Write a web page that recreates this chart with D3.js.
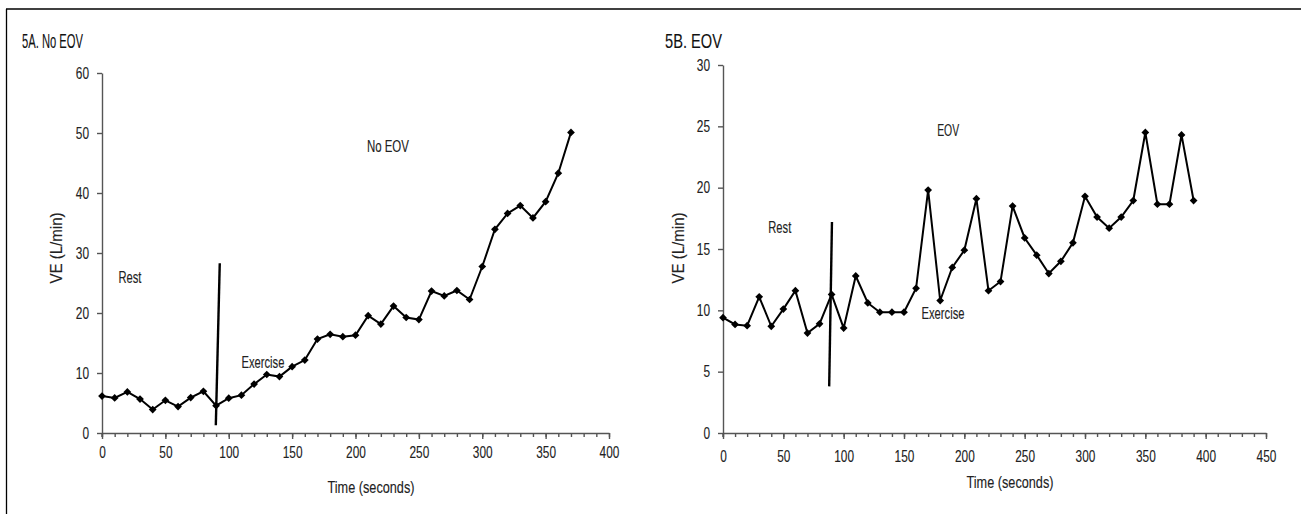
<!DOCTYPE html>
<html><head><meta charset="utf-8">
<script src="https://cdn.jsdelivr.net/npm/d3@7"></script>
<style>
html,body{margin:0;padding:0;background:#fff;}
svg text{font-family:"Liberation Sans Narrow","Arial Narrow","Liberation Sans",Arial,sans-serif;stroke:#222;stroke-width:0.12px;}
</style></head>
<body><svg id="c" width="1301" height="514"></svg>
<script>
// ---- data ----
const timeA = [0,10,20,30,40,50,60,70,80,90,100,110,120,130,140,150,160,170,180,190,200,210,220,230,240,250,260,270,280,290,300,310,320,330,340,350,360,370];
const veA = [6.15,5.85,6.85,5.65,3.9,5.45,4.4,5.9,6.95,4.55,5.8,6.3,8.15,9.75,9.4,11.05,12.15,15.65,16.45,16.05,16.3,19.55,18.15,21.15,19.25,18.9,23.65,22.85,23.75,22.25,27.75,33.95,36.6,37.9,35.85,38.55,43.3,50.1];
const timeB = [0,10,20,30,40,50,60,70,80,90,100,110,120,130,140,150,160,170,180,190,200,210,220,230,240,250,260,270,280,290,300,310,320,330,340,350,360,370,380,390];
const veB = [9.4,8.85,8.75,11.1,8.7,10.1,11.6,8.15,8.9,11.3,8.55,12.8,10.6,9.85,9.85,9.85,11.8,19.8,10.8,13.5,14.9,19.1,11.6,12.35,18.5,15.9,14.5,13.0,14.0,15.5,19.3,17.6,16.7,17.6,18.95,24.5,18.65,18.65,24.3,18.95];
const xTicksA = [0,50,100,150,200,250,300,350,400];
const yTicksA = [0,10,20,30,40,50,60];
const xTicksB = [0,50,100,150,200,250,300,350,400,450];
const yTicksB = [0,5,10,15,20,25,30];
const dividerA = [[89.8,1.3],[92.9,28.3]];
const dividerB = [[88.0,3.8],[90.3,17.2]];
const titleA = "5A. No EOV", titleB = "5B. EOV";
const xLabel = "Time (seconds)", yLabel = "VE (L/min)";
const notesA = [{t:"Rest",x:13,y:25.0,w:23},{t:"Exercise",x:110,y:10.9,w:43},{t:"No EOV",x:209,y:46.9,w:42}];
const notesB = [{t:"Rest",x:37.5,y:16.3,w:23},{t:"Exercise",x:164.5,y:9.3,w:43},{t:"EOV",x:177.5,y:24.25,w:22}];

const svg = d3.select("#c");
const FONT = '"Liberation Sans Narrow","Arial Narrow","Liberation Sans",Arial,sans-serif';
const DIGIT_W = 6.6;
// frame
svg.append("line").attr("x1",6.5).attr("y1",9).attr("x2",6.5).attr("y2",514).attr("stroke","#000").attr("stroke-width",1.3);
svg.append("line").attr("x1",6).attr("y1",9).attr("x2",1301).attr("y2",9).attr("stroke","#000").attr("stroke-width",1.3);

function panel(cfg){
  const x = d3.scaleLinear().domain(cfg.xDom).range(cfg.xRange);
  const y = d3.scaleLinear().domain(cfg.yDom).range(cfg.yRange);
  const g = svg.append("g");
  const axColor = "#555";
  const minor = d3.range(cfg.xDom[0], cfg.xDom[1]+1, 10);
  const gxm = g.append("g").attr("transform",`translate(0,${cfg.yRange[0]})`)
    .call(d3.axisBottom(x).tickValues(minor).tickSize(4).tickFormat(""));
  gxm.select(".domain").remove();
  gxm.selectAll("text").remove();
  const gx = g.append("g").attr("transform",`translate(0,${cfg.yRange[0]})`)
    .call(d3.axisBottom(x).tickValues(cfg.xTicks).tickSize(6).tickSizeOuter(0).tickPadding(cfg.xPad));
  const gy = g.append("g").attr("transform",`translate(${cfg.xRange[0]},0)`)
    .call(d3.axisLeft(y).tickValues(cfg.yTicks).tickSize(5).tickSizeOuter(0).tickPadding(8));
  [gxm,gx,gy].forEach(a=>{
    a.selectAll("line").attr("stroke",axColor).attr("stroke-width",1.4);
    a.selectAll(".domain").attr("stroke",axColor).attr("stroke-width",1.4);
    a.selectAll("text").attr("font-size",16).attr("fill","#222")
      .style("font-family",FONT)
      .attr("textLength",function(){ return (this.textContent.length*DIGIT_W).toFixed(1); })
      .attr("lengthAdjust","spacingAndGlyphs");
  });
  g.append("line").attr("x1",cfg.xRange[0]).attr("x2",cfg.xRange[0])
    .attr("y1",cfg.yRange[0]).attr("y2",cfg.yRange[0]+4).attr("stroke",axColor).attr("stroke-width",1.4);

  g.append("line").attr("x1",x(cfg.divider[0][0])).attr("y1",y(cfg.divider[0][1]))
    .attr("x2",x(cfg.divider[1][0])).attr("y2",y(cfg.divider[1][1]))
    .attr("stroke","#000").attr("stroke-width",2.4);

  const pts = cfg.t.map((t,i)=>[t,cfg.v[i]]);
  g.append("path").datum(pts)
    .attr("d", d3.line().x(d=>x(d[0])).y(d=>y(d[1])))
    .attr("fill","none").attr("stroke","#000").attr("stroke-width",2);
  g.selectAll(".mk").data(pts).join("path")
    .attr("d", d3.symbol(d3.symbolSquare, 30)())
    .attr("transform", d=>`translate(${x(d[0])},${y(d[1])}) rotate(45)`)
    .attr("fill","#000");

  cfg.notes.forEach(n=>{
    g.append("text").attr("x",x(n.x)).attr("y",y(n.y)).attr("font-size",16).attr("fill","#222")
      .attr("textLength",n.w).attr("lengthAdjust","spacingAndGlyphs").text(n.t);
  });
  g.append("text").attr("x",cfg.title.x).attr("y",cfg.title.y).attr("font-size",21)
    .attr("fill","#111").attr("textLength",cfg.title.w).attr("lengthAdjust","spacingAndGlyphs").text(cfg.title.t);
  g.append("text").attr("x",cfg.xl.x).attr("y",cfg.xl.y).attr("font-size",16).attr("text-anchor","middle")
    .attr("fill","#222").attr("textLength",87).attr("lengthAdjust","spacingAndGlyphs").text(xLabel);
  g.append("text").attr("transform",`translate(${cfg.yl.x},${cfg.yl.y}) rotate(-90)`)
    .attr("font-size",16).attr("text-anchor","middle").attr("fill","#222")
    .attr("textLength",71).attr("lengthAdjust","spacingAndGlyphs").text(yLabel);
}

panel({xDom:[0,400], yDom:[0,60], xRange:[102,609], yRange:[433,73], xTicks:xTicksA, yTicks:yTicksA,
  xPad:8, t:timeA, v:veA, divider:dividerA, notes:notesA,
  title:{t:titleA,x:22,y:48,w:61}, xl:{x:371,y:493}, yl:{x:62,y:248}});
panel({xDom:[0,450], yDom:[0,30], xRange:[723,1266], yRange:[433,65], xTicks:xTicksB, yTicks:yTicksB,
  xPad:12, t:timeB, v:veB, divider:dividerB, notes:notesB,
  title:{t:titleB,x:665,y:48,w:57}, xl:{x:1010,y:488}, yl:{x:684,y:248}});
</script></body></html>
